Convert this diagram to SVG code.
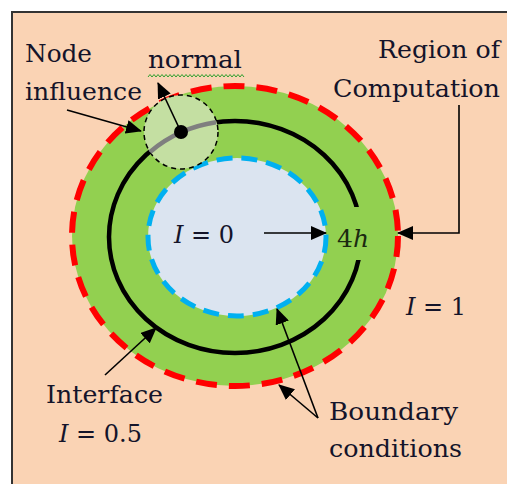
<svg xmlns="http://www.w3.org/2000/svg" width="507" height="484" viewBox="0 0 507 484">
<defs>
<marker id="ah" markerUnits="userSpaceOnUse" markerWidth="16" markerHeight="14" refX="15" refY="7" orient="auto">
<path d="M0,0 L16,7 L0,14 Z" fill="#000"/>
</marker>
<style>
.lbl{font-family:'DejaVu Serif','Liberation Serif',serif;font-size:25px;fill:#14142a;}
.eq{font-size:24px;}
.it{font-style:italic;}
.arr{fill:none;stroke:#000;stroke-width:1.6;marker-end:url(#ah);}
</style>
</defs>
<rect x="0" y="0" width="507" height="484" fill="#ffffff"/>
<rect id="background" x="12" y="12" width="500" height="480" fill="#fad3b4" stroke="#333" stroke-width="2"/>
<g id="region">
<ellipse cx="235" cy="236" rx="163" ry="150" fill="#92d050"/>
<ellipse cx="235" cy="236" rx="163" ry="150" fill="none" stroke="#ff0000" stroke-width="6" stroke-dasharray="21 12"/>
</g>
<g id="interface">
<ellipse cx="235" cy="237" rx="126" ry="116" fill="none" stroke="#000" stroke-width="4.5"/>
</g>
<g id="inner">
<ellipse cx="237" cy="237" rx="89" ry="79" fill="#dbe4f0"/>
<ellipse cx="237" cy="237" rx="89" ry="79" fill="none" stroke="#00b0f0" stroke-width="5" stroke-dasharray="16 9"/>
</g>
<rect x="345" y="207" width="26" height="53" fill="#92d050"/>
<g id="node-influence">
<circle cx="181" cy="132" r="37" fill="#c4dfa2" stroke="#000" stroke-width="1.5" stroke-dasharray="5 4"/>
<path d="M150,152 A126,116 0 0 1 216,122.3" fill="none" stroke="#7f7f7f" stroke-width="4.5"/>
<circle cx="181" cy="132" r="7" fill="#000"/>
</g>
<path id="squiggle" d="M148,77 l2,-2.5 l2,2.5 l2,-2.5 l2,2.5 l2,-2.5 l2,2.5 l2,-2.5 l2,2.5 l2,-2.5 l2,2.5 l2,-2.5 l2,2.5 l2,-2.5 l2,2.5 l2,-2.5 l2,2.5 l2,-2.5 l2,2.5 l2,-2.5 l2,2.5 l2,-2.5 l2,2.5 l2,-2.5 l2,2.5 l2,-2.5 l2,2.5 l2,-2.5 l2,2.5 l2,-2.5 l2,2.5 l2,-2.5 l2,2.5 l2,-2.5 l2,2.5 l2,-2.5 l2,2.5 l2,-2.5 l2,2.5 l2,-2.5 l2,2.5 l2,-2.5 l2,2.5 l2,-2.5 l2,2.5 l2,-2.5 l2,2.5 l2,-2.5 l2,2.5" fill="none" stroke="#2ea02e" stroke-width="1"/>
<g id="connectors">
<line class="arr" x1="181" y1="132" x2="158" y2="83"/>
<line class="arr" x1="67" y1="110" x2="141" y2="131"/>
<polyline class="arr" points="459,105 459,233 398,233"/>
<line class="arr" x1="264" y1="233" x2="326" y2="233"/>
<line class="arr" x1="105" y1="375" x2="156" y2="328"/>
<line class="arr" x1="318" y1="418" x2="277" y2="309"/>
<line class="arr" x1="318" y1="418" x2="279" y2="385"/>
</g>
<g id="labels">
<text class="lbl" x="25" y="62" textLength="67" lengthAdjust="spacingAndGlyphs">Node</text>
<text class="lbl" x="25" y="100" textLength="117" lengthAdjust="spacingAndGlyphs">influence</text>
<text class="lbl" x="148" y="68" textLength="94" lengthAdjust="spacingAndGlyphs">normal</text>
<text class="lbl" x="378" y="58" textLength="122" lengthAdjust="spacingAndGlyphs">Region of</text>
<text class="lbl" x="333" y="97" textLength="167" lengthAdjust="spacingAndGlyphs">Computation</text>
<text class="lbl eq" x="174" y="243"><tspan class="it">I</tspan> = 0</text>
<text class="lbl" x="337" y="247" style="fill:#1c2a10">4<tspan class="it">h</tspan></text>
<text class="lbl eq" x="406" y="315"><tspan class="it">I</tspan> = 1</text>
<text class="lbl" x="46" y="403" textLength="117" lengthAdjust="spacingAndGlyphs">Interface</text>
<text class="lbl eq" x="59" y="442"><tspan class="it">I</tspan> = 0.5</text>
<text class="lbl" x="329" y="420" textLength="129" lengthAdjust="spacingAndGlyphs">Boundary</text>
<text class="lbl" x="329" y="457" textLength="133" lengthAdjust="spacingAndGlyphs">conditions</text>
</g>
</svg>
